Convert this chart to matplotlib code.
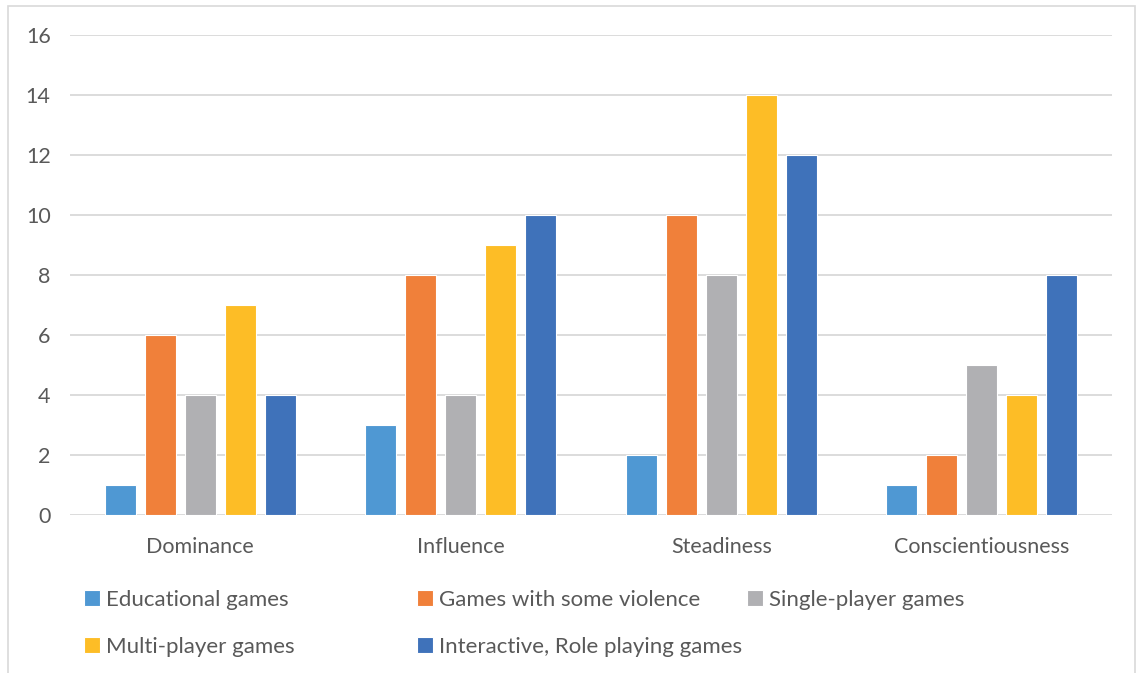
import matplotlib
matplotlib.use("Agg")
from matplotlib import pyplot as plt
from matplotlib.patches import Rectangle
import numpy as np

categories = ["Dominance", "Influence", "Steadiness", "Conscientiousness"]
series_names = ["Educational games", "Games with some violence", "Single-player games",
                "Multi-player games", "Interactive, Role playing games"]
educational = [1, 3, 2, 1]
violence = [6, 8, 10, 2]
single_player = [4, 4, 8, 5]
multi_player = [7, 9, 14, 4]
interactive = [4, 10, 12, 8]
series_values = [educational, violence, single_player, multi_player, interactive]
colors = ["#4F98D3", "#F0803A", "#B0B0B3", "#FDBD26", "#3F72BA"]

plt.rcParams['font.family'] = ['Lato', 'DejaVu Sans']
text_color = "#595959"
grid_color = "#D9D9D9"

fig = plt.figure(figsize=(11.4, 6.73), dpi=100)
ax = fig.add_axes([70 / 1140, 1 - 515 / 673, 1042 / 1140, 480 / 673])

x = np.arange(len(categories))
width = 0.12
step = 0.1535
handles = []
for i, (vals, col) in enumerate(zip(series_values, colors)):
    b = ax.bar(x + (i - 2) * step, vals, width, color=col, edgecolor="white",
               linewidth=0.8, zorder=3, label=series_names[i])
    handles.append(b)

ax.set_xlim(-0.5, 3.5)
ax.set_ylim(0, 16)
ax.set_yticks(range(0, 17, 2))
ax.set_xticks(x)
ax.set_xticklabels(categories)
ax.grid(axis="y", color=grid_color, linewidth=1.3, zorder=0)
for s in ax.spines.values():
    s.set_visible(False)
ax.tick_params(axis="both", length=0, labelsize=15.5, colors=text_color)
ax.tick_params(axis="y", pad=14)
ax.tick_params(axis="x", pad=16)

# legend columns placed separately to match spacing
col_x = [84 / 1140, 417 / 1140, 747 / 1140]
cols = [[0, 3], [1, 4], [2]]
for cx, idxs in zip(col_x, cols):
    leg = fig.legend([handles[i] for i in idxs], [series_names[i] for i in idxs],
                     loc="upper left", bbox_to_anchor=(cx, 1 - 590 / 673),
                     frameon=False, fontsize=16, handlelength=0.7, handleheight=0.7,
                     handletextpad=0.3, labelspacing=1.2, borderaxespad=0, borderpad=0)
    for t in leg.get_texts():
        t.set_color(text_color)

# chart border
fig.patches.append(Rectangle((8 / 1140, -0.01), 1127 / 1140, 1 - 6 / 673 + 0.01,
                             transform=fig.transFigure, fill=False,
                             edgecolor=grid_color, linewidth=1.2))

fig.savefig("out.png", dpi=100)
